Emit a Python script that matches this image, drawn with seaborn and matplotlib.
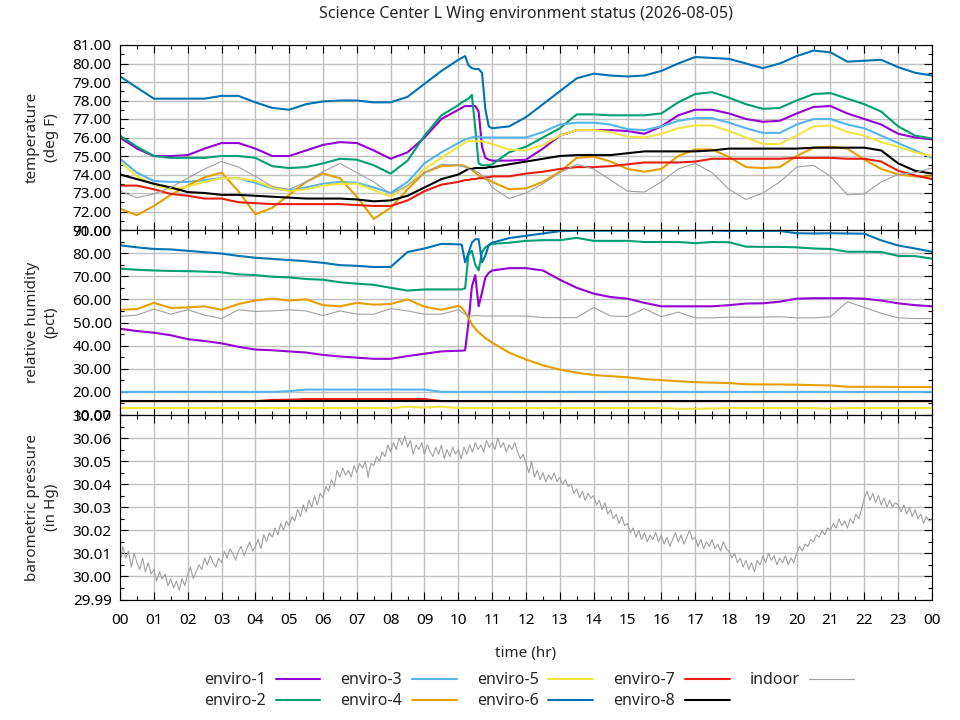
import numpy as np
import pandas as pd
import matplotlib
matplotlib.use("Agg")
import matplotlib.pyplot as plt
import seaborn as sns
from matplotlib.ticker import MultipleLocator, FormatStrFormatter
from matplotlib.lines import Line2D

# sample times (hours) for temperature / humidity
hours = [0, 0.5, 1, 1.5, 2, 2.5, 3, 3.5, 4, 4.5,
         5, 5.5, 6, 6.5, 7, 7.5, 8, 8.5, 9, 9.5,
         10, 10.1, 10.2, 10.3, 10.4, 10.5, 10.6, 10.7, 10.8, 10.9,
         11, 11.5, 12, 12.5, 13, 13.5, 14, 14.5, 15, 15.5,
         16, 16.5, 17, 17.5, 18, 18.5, 19, 19.5, 20, 20.5,
         21, 21.5, 22, 22.5, 23, 23.5, 24]

sensors = ["enviro-1", "enviro-2", "enviro-3", "enviro-4", "enviro-5",
           "enviro-6", "enviro-7", "enviro-8", "indoor"]
colors = ["#9400d3", "#009e73", "#56b4e9", "#e69f00", "#f0e442",
          "#0072b2", "#e51e10", "#000000", "#a0a0a0"]

# temperature (deg F)
temp_e1 = [76.0, 75.4, 75.0, 75.0, 75.05, 75.4, 75.7, 75.7, 75.4, 75.0,
           75.0, 75.3, 75.6, 75.75, 75.7, 75.3, 74.85, 75.2, 76.0, 77.0,
           77.5, 77.6, 77.7, 77.7, 77.7, 77.7, 77.4, 75.5, 74.9, 74.8,
           74.75, 74.75, 74.8, 75.4, 76.1, 76.4, 76.4, 76.4, 76.35, 76.2,
           76.6, 77.2, 77.5, 77.5, 77.3, 77.0, 76.85, 76.9, 77.3, 77.65,
           77.7, 77.3, 77.0, 76.7, 76.2, 76.0, 75.9]
temp_e2 = [76.1, 75.5, 75.0, 74.9, 74.9, 74.9, 75.0, 75.0, 74.9, 74.45,
           74.35, 74.4, 74.6, 74.85, 74.8, 74.5, 74.05, 74.75, 76.1, 77.2,
           77.75, 77.9, 78.0, 78.1, 78.3, 76.5, 74.6, 74.5, 74.5, 74.5,
           74.55, 75.2, 75.5, 76.0, 76.5, 77.25, 77.25, 77.2, 77.2, 77.2,
           77.3, 77.9, 78.35, 78.45, 78.15, 77.8, 77.55, 77.6, 78.0, 78.35,
           78.4, 78.1, 77.8, 77.4, 76.6, 76.1, 75.95]
temp_e3 = [74.85, 74.1, 73.65, 73.6, 73.6, 73.7, 73.8, 73.8, 73.55, 73.25,
           73.15, 73.3, 73.5, 73.6, 73.55, 73.3, 73.0, 73.6, 74.6, 75.2,
           75.7, 75.8, 75.9, 75.95, 76.0, 76.05, 76.05, 76.0, 76.0, 76.0,
           76.0, 76.0, 76.0, 76.3, 76.7, 76.8, 76.8, 76.7, 76.45, 76.4,
           76.6, 76.9, 77.05, 77.05, 76.8, 76.5, 76.25, 76.25, 76.7, 77.0,
           77.0, 76.7, 76.5, 76.1, 75.7, 75.3, 74.9]
temp_e4 = [72.15, 71.8, 72.3, 72.9, 73.4, 73.85, 74.1, 73.1, 71.85, 72.2,
           72.9, 73.6, 74.05, 73.8, 72.8, 71.6, 72.2, 73.2, 74.1, 74.45,
           74.5, 74.5, 74.45, 74.35, 74.25, 74.1, 73.95, 73.85, 73.75, 73.7,
           73.6, 73.2, 73.25, 73.6, 74.15, 74.9, 74.97, 74.7, 74.3, 74.15,
           74.3, 75.0, 75.35, 75.35, 74.95, 74.4, 74.35, 74.4, 75.0, 75.45,
           75.5, 75.4, 74.8, 74.3, 74.0, 73.9, 73.9]
temp_e5 = [74.7, 73.9, 73.45, 73.2, 73.35, 73.6, 73.8, 73.8, 73.65, 73.3,
           73.1, 73.2, 73.4, 73.5, 73.5, 73.15, 72.8, 73.4, 74.3, 74.9,
           75.5, 75.6, 75.75, 75.8, 75.8, 75.8, 75.8, 75.8, 75.75, 75.7,
           75.65, 75.35, 75.3, 75.6, 76.1, 76.4, 76.4, 76.3, 76.05, 76.0,
           76.2, 76.5, 76.65, 76.65, 76.35, 76.0, 75.65, 75.65, 76.1, 76.6,
           76.65, 76.3, 76.1, 75.75, 75.5, 75.2, 75.0]
temp_e6 = [79.3, 78.7, 78.1, 78.1, 78.1, 78.1, 78.25, 78.25, 77.9, 77.6,
           77.5, 77.8, 77.95, 78.0, 78.0, 77.9, 77.9, 78.2, 78.9, 79.6,
           80.2, 80.3, 80.4, 79.9, 79.75, 79.7, 79.7, 79.5, 77.5, 76.6,
           76.5, 76.6, 77.1, 77.8, 78.5, 79.2, 79.45, 79.35, 79.3, 79.35,
           79.6, 80.0, 80.35, 80.3, 80.25, 80.0, 79.75, 80.0, 80.4, 80.7,
           80.6, 80.1, 80.15, 80.2, 79.8, 79.5, 79.35]
temp_e7 = [73.4, 73.4, 73.2, 72.95, 72.85, 72.7, 72.7, 72.5, 72.45, 72.4,
           72.4, 72.4, 72.4, 72.4, 72.35, 72.3, 72.3, 72.6, 73.1, 73.45,
           73.6, 73.65, 73.7, 73.7, 73.75, 73.75, 73.8, 73.8, 73.85, 73.85,
           73.9, 73.9, 74.05, 74.15, 74.3, 74.4, 74.4, 74.45, 74.55, 74.65,
           74.65, 74.65, 74.7, 74.85, 74.85, 74.85, 74.85, 74.85, 74.9, 74.9,
           74.9, 74.85, 74.85, 74.7, 74.2, 73.95, 73.75]
temp_e8 = [74.0, 73.75, 73.5, 73.3, 73.05, 73.0, 72.9, 72.9, 72.85, 72.8,
           72.75, 72.7, 72.7, 72.7, 72.65, 72.55, 72.6, 72.85, 73.3, 73.75,
           74.0, 74.1, 74.2, 74.3, 74.3, 74.35, 74.35, 74.35, 74.35, 74.4,
           74.4, 74.55, 74.7, 74.85, 75.0, 75.05, 75.05, 75.05, 75.15, 75.25,
           75.25, 75.25, 75.25, 75.3, 75.4, 75.4, 75.4, 75.4, 75.4, 75.45,
           75.45, 75.45, 75.45, 75.3, 74.6, 74.2, 74.05]
temp_in = [73.1, 72.75, 72.95, 73.3, 73.8, 74.3, 74.7, 74.4, 73.9, 73.35,
           73.2, 73.6, 74.15, 74.6, 74.1, 73.6, 72.95, 73.4, 74.1, 74.55,
           74.5, 74.45, 74.4, 74.3, 74.25, 74.2, 74.1, 73.95, 73.8, 73.6,
           73.3, 72.7, 73.0, 73.5, 74.1, 74.55, 74.3, 73.7, 73.1, 73.05,
           73.6, 74.3, 74.6, 74.1, 73.2, 72.65, 73.0, 73.6, 74.4, 74.5,
           73.9, 72.9, 72.95, 73.6, 74.0, 74.1, 74.35]

# relative humidity (pct)
rh_e1 = [47.3, 46.3, 45.6, 44.5, 42.8, 42.0, 41.0, 39.5, 38.3, 38.0,
         37.5, 37.0, 36.0, 35.3, 34.8, 34.3, 34.3, 35.5, 36.5, 37.5,
         37.8, 37.8, 38.0, 50.0, 65.5, 70.5, 57.0, 63.0, 69.5, 71.5,
         72.5, 73.5, 73.5, 72.5, 68.5, 65.0, 62.5, 61.0, 60.3, 58.5,
         57.0, 57.0, 57.0, 57.0, 57.5, 58.2, 58.3, 59.0, 60.3, 60.5,
         60.5, 60.5, 60.3, 59.5, 58.3, 57.5, 57.0]
rh_e2 = [73.3, 72.8, 72.5, 72.3, 72.2, 72.0, 71.7, 70.8, 70.5, 69.8,
         69.5, 68.8, 68.5, 67.4, 66.8, 66.3, 65.0, 63.8, 64.3, 64.3,
         64.3, 64.3, 64.8, 79.5, 81.0, 75.0, 72.5, 80.5, 82.5, 83.5,
         84.0, 84.5, 85.3, 85.6, 85.6, 86.6, 85.3, 85.3, 85.3, 84.8,
         84.8, 84.8, 84.3, 84.8, 84.7, 82.8, 82.7, 82.7, 82.5, 82.0,
         81.8, 80.6, 80.6, 80.5, 78.8, 78.7, 77.6]
rh_e3 = [20.0, 20.0, 20.0, 20.0, 20.0, 20.0, 20.0, 20.0, 20.0, 20.0,
         20.3, 21.0, 21.0, 21.0, 21.0, 21.0, 21.0, 21.0, 21.0, 20.0,
         20.0, 20.0, 20.0, 20.0, 20.0, 20.0, 20.0, 20.0, 20.0, 20.0,
         20.0, 20.0, 20.0, 20.0, 20.0, 20.0, 20.0, 20.0, 20.0, 20.0,
         20.0, 20.0, 20.0, 20.0, 20.0, 20.0, 20.0, 20.0, 20.0, 20.0,
         20.0, 20.0, 20.0, 20.0, 20.0, 20.0, 20.0]
rh_e4 = [55.5, 55.8, 58.5, 56.3, 56.5, 57.0, 55.5, 58.0, 59.5, 60.3,
         59.5, 60.0, 57.5, 57.0, 58.5, 57.7, 58.0, 60.0, 56.8, 55.5,
         57.2, 56.5, 54.5, 52.0, 49.2, 47.3, 45.8, 44.5, 43.2, 42.3,
         41.3, 37.0, 34.0, 31.5, 29.6, 28.3, 27.3, 26.8, 26.3, 25.5,
         25.1, 24.6, 24.2, 24.0, 23.8, 23.3, 23.2, 23.2, 23.1, 22.9,
         22.8, 22.2, 22.2, 22.2, 22.1, 22.1, 22.1]
rh_e5 = [13.0, 13.0, 13.0, 13.0, 13.0, 13.0, 13.0, 13.0, 13.0, 13.0,
         13.0, 13.0, 13.0, 13.0, 13.0, 13.0, 13.0, 13.6, 13.2, 13.6,
         13.0, 13.0, 13.0, 13.0, 13.0, 13.0, 13.0, 13.0, 13.0, 13.0,
         13.0, 13.0, 13.0, 13.0, 13.0, 13.0, 13.0, 13.0, 13.0, 13.0,
         13.0, 12.7, 12.7, 12.8, 13.0, 13.0, 13.0, 13.0, 13.0, 13.0,
         12.7, 13.0, 13.0, 13.0, 13.0, 13.0, 13.0]
rh_e6 = [83.4, 82.5, 81.8, 81.6, 81.0, 80.4, 79.8, 78.8, 78.0, 77.5,
         77.0, 76.5, 75.8, 74.8, 74.5, 74.0, 74.0, 80.5, 82.0, 84.0,
         83.8, 83.7, 76.0, 80.0, 84.5, 86.0, 86.0, 76.0, 79.0, 83.5,
         84.5, 86.5, 87.5, 88.5, 89.5, 89.7, 89.7, 89.7, 89.7, 89.7,
         89.7, 89.7, 89.8, 89.8, 89.6, 89.6, 89.6, 89.6, 88.6, 88.5,
         88.6, 88.5, 88.4, 85.5, 83.3, 82.0, 80.6]
rh_e7 = [16.0, 16.0, 16.0, 16.0, 16.0, 16.0, 16.0, 16.0, 16.0, 16.5,
         16.6, 16.9, 16.9, 16.9, 16.9, 16.9, 16.9, 16.9, 16.9, 16.0,
         16.0, 16.0, 16.0, 16.0, 16.0, 16.0, 16.0, 16.0, 16.0, 16.0,
         16.0, 16.0, 16.0, 16.0, 16.0, 16.0, 16.0, 16.0, 16.0, 16.0,
         16.0, 16.0, 16.0, 16.0, 16.0, 16.0, 16.0, 16.0, 16.0, 16.0,
         16.0, 16.0, 16.0, 16.0, 16.0, 16.0, 16.0]
rh_e8 = [15.9, 15.9, 15.9, 15.9, 15.9, 15.9, 15.9, 15.9, 15.9, 15.9,
         15.9, 15.9, 15.9, 15.9, 15.9, 15.9, 15.9, 15.9, 15.9, 15.9,
         15.9, 15.9, 15.9, 15.9, 15.9, 15.9, 15.9, 15.9, 15.9, 15.9,
         15.9, 15.9, 15.9, 15.9, 15.9, 15.9, 15.9, 15.9, 15.9, 15.9,
         15.9, 15.9, 15.9, 15.9, 15.9, 15.9, 15.9, 15.9, 15.9, 15.9,
         15.9, 15.9, 15.9, 15.9, 15.9, 15.9, 15.9]
rh_in = [52.6, 53.2, 55.8, 53.6, 55.5, 53.2, 51.7, 55.5, 54.8, 55.0,
         55.5, 55.0, 53.0, 55.0, 53.6, 53.6, 56.0, 55.0, 53.6, 53.6,
         55.5, 54.5, 53.5, 53.0, 52.8, 53.0, 53.0, 52.8, 52.8, 52.8,
         52.8, 52.8, 52.8, 52.1, 52.1, 52.1, 56.5, 52.8, 52.6, 56.0,
         52.5, 54.5, 52.0, 52.0, 52.3, 52.3, 52.3, 52.5, 52.0, 52.0,
         52.5, 59.0, 56.5, 54.0, 52.0, 51.7, 51.7]

# barometric pressure (in Hg), indoor only, every 5 minutes (one row per hour)
press_in = [
    30.006, 30.013, 30.008, 30.011, 30.004, 30.010, 30.006, 30.003, 30.008, 30.002, 30.006, 30.001,
    30.003, 29.998, 30.002, 29.999, 30.001, 29.996, 29.999, 29.995, 29.998, 29.994, 29.999, 29.996,
    30.001, 30.004, 29.999, 30.002, 30.005, 30.003, 30.008, 30.005, 30.009, 30.006, 30.004, 30.008,
    30.006, 30.011, 30.008, 30.012, 30.010, 30.007, 30.011, 30.013, 30.009, 30.012, 30.015, 30.011,
    30.013, 30.016, 30.012, 30.018, 30.015, 30.019, 30.017, 30.021, 30.018, 30.023, 30.020, 30.024,
    30.022, 30.026, 30.024, 30.029, 30.026, 30.031, 30.028, 30.033, 30.030, 30.035, 30.031, 30.036,
    30.034, 30.039, 30.037, 30.042, 30.039, 30.046, 30.043, 30.047, 30.044, 30.046, 30.043, 30.048,
    30.045, 30.049, 30.047, 30.050, 30.043, 30.049, 30.048, 30.052, 30.050, 30.054, 30.052, 30.057,
    30.054, 30.058, 30.055, 30.060, 30.057, 30.061, 30.056, 30.059, 30.053, 30.057, 30.055, 30.058,
    30.053, 30.057, 30.054, 30.052, 30.056, 30.053, 30.057, 30.051, 30.055, 30.052, 30.056, 30.053,
    30.055, 30.051, 30.056, 30.053, 30.057, 30.054, 30.058, 30.055, 30.057, 30.054, 30.059, 30.056,
    30.058, 30.055, 30.060, 30.056, 30.058, 30.054, 30.057, 30.055, 30.058, 30.054, 30.051, 30.053,
    30.049, 30.045, 30.050, 30.043, 30.046, 30.042, 30.045, 30.041, 30.044, 30.042, 30.045, 30.041,
    30.043, 30.040, 30.042, 30.039, 30.040, 30.036, 30.038, 30.034, 30.037, 30.033, 30.036, 30.034,
    30.035, 30.031, 30.033, 30.029, 30.032, 30.027, 30.029, 30.025, 30.027, 30.023, 30.026, 30.022,
    30.023, 30.019, 30.021, 30.017, 30.020, 30.016, 30.019, 30.015, 30.018, 30.016, 30.019, 30.015,
    30.018, 30.014, 30.017, 30.013, 30.016, 30.019, 30.015, 30.018, 30.014, 30.017, 30.020, 30.016,
    30.017, 30.013, 30.016, 30.012, 30.015, 30.013, 30.016, 30.012, 30.014, 30.011, 30.015, 30.012,
    30.011, 30.008, 30.010, 30.006, 30.008, 30.004, 30.007, 30.003, 30.006, 30.002, 30.007, 30.005,
    30.009, 30.006, 30.010, 30.007, 30.009, 30.005, 30.008, 30.006, 30.009, 30.005, 30.008, 30.006,
    30.010, 30.013, 30.011, 30.014, 30.013, 30.016, 30.015, 30.018, 30.017, 30.020, 30.018, 30.021,
    30.020, 30.023, 30.021, 30.025, 30.022, 30.024, 30.021, 30.025, 30.023, 30.027, 30.025, 30.029,
    30.034, 30.037, 30.033, 30.036, 30.032, 30.035, 30.031, 30.034, 30.030, 30.033, 30.030, 30.032,
    30.031, 30.028, 30.031, 30.027, 30.030, 30.026, 30.029, 30.025, 30.027, 30.023, 30.026, 30.024,
    30.025]
press_hours = np.arange(len(press_in)) / 12.0

temp = pd.DataFrame(dict(zip(sensors, [temp_e1, temp_e2, temp_e3, temp_e4, temp_e5,
                                       temp_e6, temp_e7, temp_e8, temp_in])))
temp["hour"] = hours
rh = pd.DataFrame(dict(zip(sensors, [rh_e1, rh_e2, rh_e3, rh_e4, rh_e5,
                                     rh_e6, rh_e7, rh_e8, rh_in])))
rh["hour"] = hours
press = pd.DataFrame({"hour": press_hours, "indoor": press_in})

sns.set_theme(style="ticks")
plt.rcParams['font.family'] = ['Noto Sans', 'DejaVu Sans']
plt.rcParams['font.size'] = 11
plt.rcParams['axes.edgecolor'] = 'black'
plt.rcParams['axes.linewidth'] = 0.8

fig = plt.figure(figsize=(9.6, 7.2), dpi=100)
left, width = 120 / 960, 812 / 960
ax_t = fig.add_axes([left, 1 - 230 / 720, width, 185 / 720])
ax_h = fig.add_axes([left, 1 - 415 / 720, width, 185 / 720], sharex=ax_t)
ax_p = fig.add_axes([left, 1 - 599.5 / 720, width, 184.5 / 720], sharex=ax_t)


def draw(ax, df, names):
    for name in names:
        c = colors[sensors.index(name)]
        lw = 0.8 if name == "indoor" else 1.5
        sns.lineplot(data=df, x="hour", y=name, color=c, linewidth=lw,
                     estimator=None, sort=False, ax=ax, legend=False)


draw(ax_t, temp, sensors)
draw(ax_h, rh, sensors)
draw(ax_p, press, ["indoor"])

settings = [
    (ax_t, (71, 81), 1, 0.5, "temperature\n(deg F)"),
    (ax_h, (10, 90), 10, 5, "relative humidity\n(pct)"),
    (ax_p, (29.99, 30.07), 0.01, 0.005, "barometric pressure\n(in Hg)"),
]
for ax, lim, major, minor, label in settings:
    ax.set_ylim(*lim)
    ax.yaxis.set_major_locator(MultipleLocator(major))
    ax.yaxis.set_minor_locator(MultipleLocator(minor))
    ax.yaxis.set_major_formatter(FormatStrFormatter("%.2f"))
    ax.set_xlim(0, 24)
    ax.xaxis.set_major_locator(MultipleLocator(1))
    ax.xaxis.set_minor_locator(MultipleLocator(0.5))
    ax.grid(True, which="major", color="#c0c0c0", linewidth=1.0)
    ax.set_axisbelow(True)
    ax.tick_params(which="both", direction="in", top=True, right=True,
                   colors="black", labelsize=11, width=0.8)
    ax.tick_params(which="major", length=6, pad=6)
    ax.tick_params(which="minor", length=3)
    ax.set_ylabel(label, fontsize=11, labelpad=10, linespacing=1.3)
    ax.set_xlabel("")
    for s in ax.spines.values():
        s.set_color("black")

for ax in (ax_t, ax_h):
    ax.tick_params(labelbottom=False)

xticks = list(range(25))
ax_p.set_xticks(xticks)
ax_p.set_xticklabels([f"{h % 24:02d}" for h in xticks])
ax_p.tick_params(axis="x", which="major", pad=10)
ax_p.set_xlabel("time (hr)", fontsize=11, labelpad=13)

fig.text(0.548, 1 - 14 / 720, "Science Center L Wing environment status (2026-08-05)",
         ha="center", va="center", fontsize=11.5)

handles = [Line2D([], [], color=c, linewidth=0.8 if n == "indoor" else 1.5)
           for n, c in zip(sensors, colors)]
fig.legend(handles, sensors, loc="center", bbox_to_anchor=(0.551, 0.0405),
           ncol=5, frameon=False, markerfirst=False, fontsize=11.5,
           handlelength=2.8, handletextpad=0.62, columnspacing=1.25,
           labelspacing=0.3)

fig.savefig("out.png", dpi=100)
